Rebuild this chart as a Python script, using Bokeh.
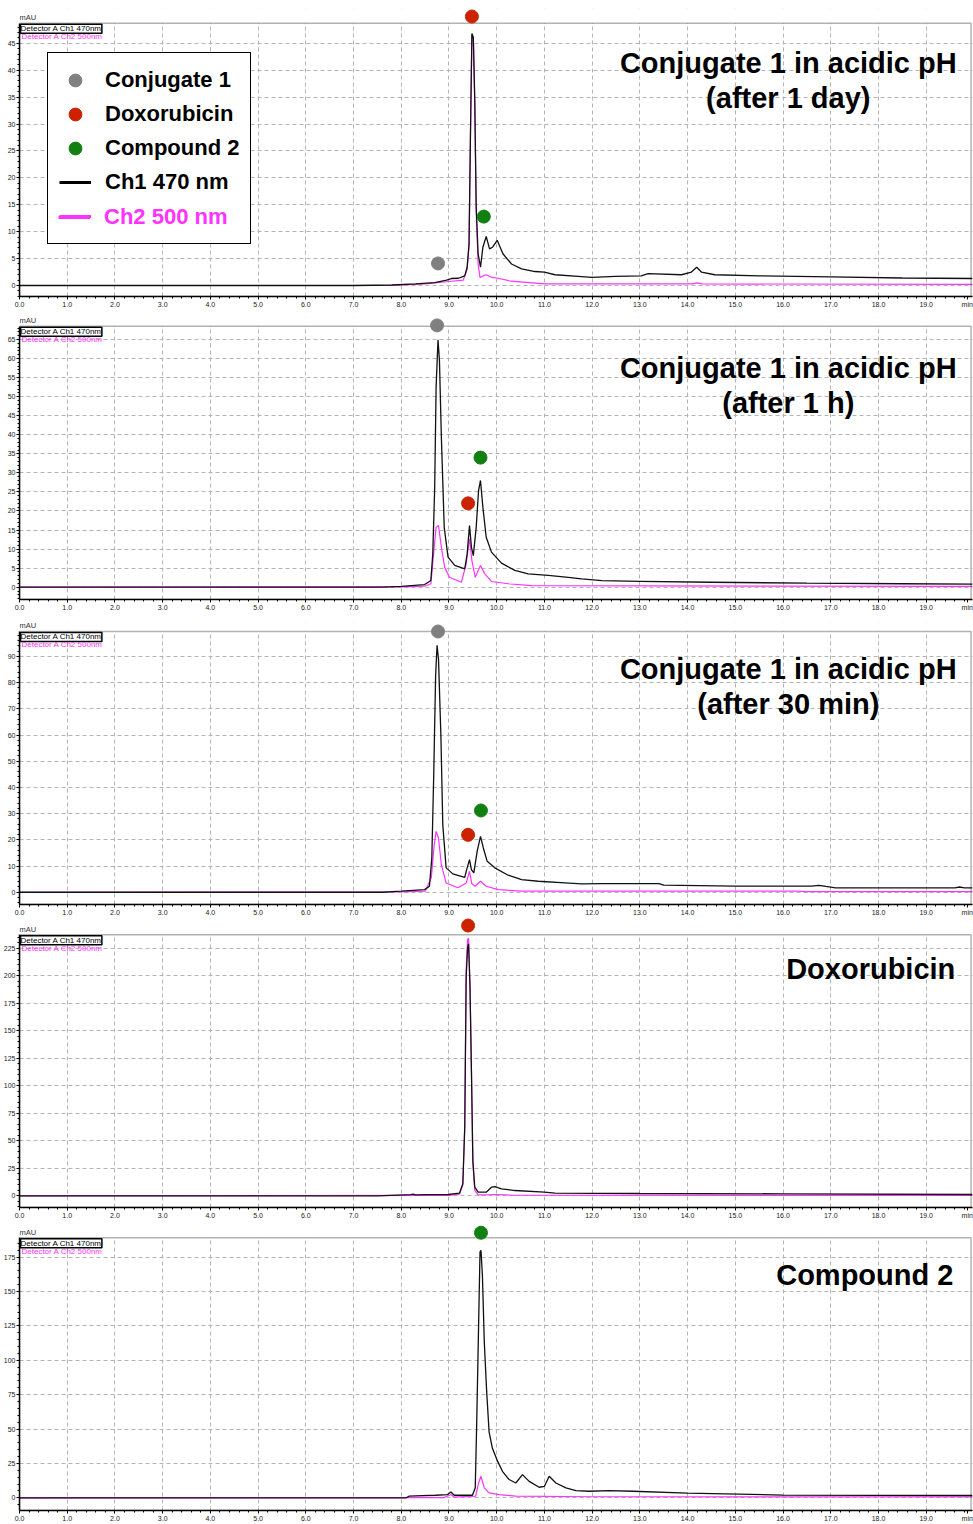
from bokeh.plotting import figure
from bokeh.layouts import column
from bokeh.models import (Range1d, SingleIntervalTicker, FixedTicker, PrintfTickFormatter,
                          BoxAnnotation, Label, Legend, LegendItem)
from bokeh.embed import file_html
from bokeh.resources import INLINE

# ---------------- data (retention time in min, signal in mAU) ----------------
compounds = ["Conjugate 1", "Doxorubicin", "Compound 2"]
compound_colors = ["#808080", "#cc2200", "#118011"]

# Panel 1: Conjugate 1 in acidic pH (after 1 day)
p1_ch1_t = [0.0, 7.0, 7.8, 8.3, 8.7, 8.95, 9.05, 9.2, 9.33, 9.38, 9.42, 9.45, 9.48, 9.51, 9.54, 9.57,
            9.61, 9.66, 9.71, 9.78, 9.85, 9.91, 10.01, 10.13, 10.31, 10.52, 10.8, 11.0, 11.22, 11.71,
            12.0, 12.48, 13.03, 13.17, 13.87, 14.08, 14.19, 14.29, 14.57, 15.5, 17.0, 18.5, 19.97]
p1_ch1_v = [0.0, 0.0, 0.1, 0.3, 0.55, 1.0, 1.3, 1.35, 1.8, 3.4, 7.7, 28.0, 46.8, 46.1, 34.4, 14.6,
            5.9, 3.4, 7.1, 9.1, 6.8, 7.1, 8.4, 5.9, 4.0, 3.1, 2.6, 2.5, 2.0, 1.7,
            1.5, 1.7, 1.8, 2.2, 2.0, 2.5, 3.4, 2.5, 2.0, 1.8, 1.6, 1.4, 1.3]
p1_ch2_t = [0.0, 7.8, 8.5, 9.0, 9.3, 9.38, 9.42, 9.45, 9.48, 9.51, 9.54, 9.57, 9.61, 9.65, 9.72,
            9.78, 9.9, 10.0, 10.3, 11.0, 14.1, 14.2, 14.3, 19.97]
p1_ch2_v = [0.0, 0.0, 0.3, 0.75, 1.0, 3.0, 7.5, 28.0, 46.5, 46.0, 34.0, 14.0, 4.0, 1.5, 1.8,
            2.0, 1.5, 1.4, 0.8, 0.3, 0.3, 0.5, 0.3, 0.2]
p1_peak_compound = ["Conjugate 1", "Doxorubicin", "Compound 2"]
p1_peak_t = [8.77, 9.48, 9.73]
p1_peak_mau = [4.1, 49.97, 12.8]

# Panel 2: Conjugate 1 in acidic pH (after 1 h)
p2_ch1_t = [0.0, 7.6, 8.0, 8.49, 8.62, 8.66, 8.7, 8.73, 8.77, 8.8, 8.84, 8.9, 8.98, 9.12, 9.33, 9.38,
            9.43, 9.47, 9.51, 9.57, 9.62, 9.66, 9.71, 9.78, 9.89, 10.1, 10.38, 10.66, 11.08, 11.5,
            11.78, 12.2, 13.0, 14.5, 16.5, 18.5, 19.97]
p2_ch1_v = [0.0, 0.0, 0.2, 0.7, 1.75, 8.7, 26.0, 52.5, 64.9, 59.5, 39.4, 15.7, 7.9, 5.7, 4.8, 8.7,
            16.2, 10.5, 8.3, 15.7, 25.4, 28.0, 21.0, 13.1, 9.2, 6.3, 4.4, 3.5, 3.1, 2.6,
            2.2, 1.7, 1.55, 1.3, 1.05, 0.9, 0.8]
p2_ch2_t = [0.0, 8.0, 8.5, 8.62, 8.69, 8.73, 8.78, 8.84, 8.91, 9.01, 9.26, 9.36, 9.43, 9.48, 9.55,
            9.66, 9.75, 9.89, 10.24, 10.73, 19.97]
p2_ch2_v = [0.0, 0.1, 0.3, 0.9, 10.5, 15.7, 16.2, 10.5, 5.2, 2.6, 1.3, 6.1, 12.7, 7.0, 2.6,
            5.7, 3.5, 1.5, 0.9, 0.4, 0.2]
p2_peak_compound = ["Conjugate 1", "Doxorubicin", "Compound 2"]
p2_peak_t = [8.75, 9.40, 9.66]
p2_peak_mau = [68.7, 22.0, 34.0]

# Panel 3: Conjugate 1 in acidic pH (after 30 min)
p3_ch1_t = [0.0, 7.6, 8.0, 8.49, 8.59, 8.64, 8.68, 8.72, 8.75, 8.78, 8.83, 8.87, 8.94, 9.08, 9.33,
            9.38, 9.43, 9.47, 9.52, 9.59, 9.66, 9.72, 9.8, 9.96, 10.24, 10.52, 10.87, 11.43, 11.78,
            12.2, 13.4, 13.5, 14.97, 16.6, 16.75, 16.9, 17.1, 19.6, 19.7, 19.8, 19.97]
p3_ch1_v = [0.0, 0.0, 0.4, 1.0, 2.3, 13.0, 44.7, 82.8, 94.2, 89.0, 60.0, 25.7, 9.3, 7.0, 5.7,
            9.3, 12.4, 8.6, 7.4, 15.6, 21.3, 16.9, 11.8, 9.3, 6.5, 4.8, 4.2, 3.6, 3.2,
            3.3, 3.3, 2.7, 2.3, 2.3, 2.6, 2.2, 1.7, 1.7, 2.0, 1.7, 1.7]
p3_ch2_t = [0.0, 8.0, 8.5, 8.63, 8.69, 8.73, 8.78, 8.84, 8.94, 9.19, 9.36, 9.43, 9.48, 9.55, 9.66,
            9.78, 10.03, 10.52, 16.3, 16.5, 19.97]
p3_ch2_v = [0.0, 0.1, 0.4, 5.5, 18.0, 23.2, 20.7, 10.5, 3.5, 1.7, 3.5, 8.0, 3.2, 2.3, 4.2,
            2.3, 1.0, 0.4, 0.4, 0.2, 0.2]
p3_peak_compound = ["Conjugate 1", "Doxorubicin", "Compound 2"]
p3_peak_t = [8.77, 9.40, 9.67]
p3_peak_mau = [99.5, 21.9, 31.2]

# Panel 4: Doxorubicin
p4_ch1_t = [0.0, 7.5, 8.2, 8.25, 8.3, 8.5, 8.98, 9.22, 9.29, 9.33, 9.36, 9.39, 9.41, 9.44, 9.47,
            9.5, 9.54, 9.61, 9.78, 9.89, 9.96, 10.1, 10.38, 11.0, 11.22, 13.0, 16.0, 19.97]
p4_ch1_v = [0.0, 0.0, 1.0, 1.5, 0.8, 1.0, 1.2, 2.4, 10.9, 62.0, 199.0, 226.0, 229.0, 190.0, 114.0,
            32.0, 7.8, 3.3, 3.3, 7.8, 8.4, 6.3, 4.8, 3.3, 2.4, 2.1, 1.8, 1.2]
p4_ch2_t = [0.0, 9.0, 9.22, 9.29, 9.33, 9.36, 9.39, 9.41, 9.44, 9.47, 9.5, 9.54, 9.61, 9.9, 10.0,
            10.3, 19.97]
p4_ch2_v = [0.0, 0.3, 1.5, 10.0, 62.0, 205.0, 233.0, 234.0, 192.0, 114.0, 30.0, 5.0, 0.8, 1.0, 1.2,
            0.5, 0.3]
p4_peak_compound = ["Doxorubicin"]
p4_peak_t = [9.40]
p4_peak_mau = [245.6]

# Panel 5: Compound 2
p5_ch1_t = [0.0, 8.1, 8.16, 8.72, 8.97, 9.04, 9.11, 9.49, 9.55, 9.58, 9.62, 9.65, 9.67, 9.7, 9.74,
            9.79, 9.84, 9.91, 10.02, 10.12, 10.26, 10.4, 10.54, 10.68, 10.89, 11.0, 11.1, 11.24,
            11.45, 11.66, 11.94, 12.36, 12.85, 14.0, 16.0, 19.97]
p5_ch1_v = [0.0, 0.0, 1.2, 1.9, 2.4, 4.3, 1.9, 1.9, 7.2, 53.0, 125.0, 178.6, 180.0, 162.0, 113.0,
            77.0, 48.0, 36.0, 26.5, 19.3, 13.3, 10.8, 16.9, 12.0, 7.7, 8.4, 15.7, 10.8,
            7.2, 5.3, 4.8, 5.3, 4.8, 3.5, 2.0, 1.7]
p5_ch2_t = [0.0, 8.9, 9.04, 9.11, 9.56, 9.62, 9.67, 9.74, 9.84, 10.05, 10.4, 12.0, 19.97]
p5_ch2_v = [0.0, 0.2, 2.4, 0.5, 1.2, 10.8, 15.7, 7.2, 3.6, 2.4, 1.2, 0.8, 0.7]
p5_peak_compound = ["Compound 2"]
p5_peak_t = [9.67]
p5_peak_mau = [192.7]

panel_titles = [["Conjugate 1 in acidic pH", "(after 1 day)"],
                ["Conjugate 1 in acidic pH", "(after 1 h)"],
                ["Conjugate 1 in acidic pH", "(after 30 min)"],
                ["Doxorubicin"],
                ["Compound 2"]]
y_tick_step = [5, 5, 10, 25, 25]
x_major_ticks = [float(k) for k in range(20)]
channel_names = ["Ch1 470 nm", "Ch2 500 nm"]
detector_names = ["Detector A Ch1 470nm", "Detector A Ch2 500nm"]

# ---------------- styling / layout ----------------
FONT = "Liberation Sans"
CH1_COLOR = "#111111"
CH2_COLOR = "#ff33ff"
W = 973
X_END = 19.97
BOX_RIGHT = 19.94
MIN_LABEL_POS = 19.86

# (height, border_top, border_bottom, y_start, y_end, box_top, px_per_unit, zero_px)
layout_spec = [
    (312, 8, 16, -2.04, 51.46, 48.73, 5.383, 285.0),
    (306, 5, 19, -3.23, 70.77, 68.49, 3.8108, 586.7 - 312),
    (300, 4, 13, -4.68, 102.93, 99.5, 2.63, 892.7 - 618),
    (306, 0, 17, -10.63, 252.0, 237.2, 1.1004, 1195.3 - 918),
    (300, 1, 13, -9.2, 197.96, 189.05, 1.3806, 1498.3 - 1224),
]
# title anchor: (x, [vertical centres in px within panel], align)
title_pos = [
    (16.11, [62, 97], "center"),
    (16.11, [368 - 312, 403 - 312], "center"),
    (16.11, [669 - 618, 704 - 618], "center"),
    (19.61, [968 - 918], "right"),
    (19.57, [1275 - 1224], "right"),
]

traces = [
    (p1_ch1_t, p1_ch1_v, p1_ch2_t, p1_ch2_v),
    (p2_ch1_t, p2_ch1_v, p2_ch2_t, p2_ch2_v),
    (p3_ch1_t, p3_ch1_v, p3_ch2_t, p3_ch2_v),
    (p4_ch1_t, p4_ch1_v, p4_ch2_t, p4_ch2_v),
    (p5_ch1_t, p5_ch1_v, p5_ch2_t, p5_ch2_v),
]
peaks = [
    (p1_peak_compound, p1_peak_t, p1_peak_mau),
    (p2_peak_compound, p2_peak_t, p2_peak_mau),
    (p3_peak_compound, p3_peak_t, p3_peak_mau),
    (p4_peak_compound, p4_peak_t, p4_peak_mau),
    (p5_peak_compound, p5_peak_t, p5_peak_mau),
]

LEGEND_STYLE = dict(orientation="vertical", label_text_font=FONT, label_text_font_style="bold",
                    label_text_font_size="22px", label_height=24, glyph_height=32,
                    glyph_width=32, spacing=2, padding=11, margin=0, label_standoff=14,
                    border_line_color="black", border_line_width=1.5)


def make_panel(i):
    h, bt, bb, y0, y1, box_top, ppu, zero_px = layout_spec[i]
    p = figure(width=W, height=h, x_range=Range1d(0, X_END), y_range=Range1d(y0, y1),
               output_backend="svg", toolbar_location=None,
               min_border_left=16, min_border_right=1,
               min_border_top=bt, min_border_bottom=bb)
    p.outline_line_color = None
    p.background_fill_color = "white"

    minor = [k * 0.2 for k in range(100) if k % 5 != 0 and k * 0.2 < X_END]
    xt_axis = FixedTicker(ticks=x_major_ticks + [MIN_LABEL_POS], minor_ticks=minor)
    xt_grid = SingleIntervalTicker(interval=1, num_minor_ticks=5)
    yt = SingleIntervalTicker(interval=y_tick_step[i], num_minor_ticks=5)
    p.xaxis.ticker = xt_axis
    p.yaxis.ticker = yt
    p.xgrid.ticker = xt_grid
    p.ygrid.ticker = yt
    p.xaxis.formatter = PrintfTickFormatter(format="%.1f")
    p.xaxis.major_label_overrides = {MIN_LABEL_POS: "min"}
    p.yaxis.bounds = (y0, box_top)
    for ax in (p.xaxis[0], p.yaxis[0]):
        ax.axis_line_color = "black"
        ax.axis_line_width = 1.5
        ax.major_tick_line_color = "black"
        ax.minor_tick_line_color = "black"
        ax.major_tick_in = 0
        ax.major_tick_out = 3
        ax.minor_tick_in = 0
        ax.minor_tick_out = 2
        ax.major_label_text_font = FONT
        ax.major_label_text_font_size = "7px"
        ax.major_label_text_color = "#222222"
        ax.major_label_standoff = 1
    for g in (p.xgrid[0], p.ygrid[0]):
        g.grid_line_color = "#b4b4b4"
        g.grid_line_dash = "4 3"
        g.grid_line_width = 1

    t1, v1, t2, v2 = traces[i]
    p.line(t2, v2, line_color=CH2_COLOR, line_width=1.2)
    p.line(t1, v1, line_color=CH1_COLOR, line_width=1.3)

    # cover above the nominal frame top, then the frame box
    p.add_layout(BoxAnnotation(left=0, right=X_END, bottom=box_top, top=y1,
                               fill_color="white", fill_alpha=1, line_color=None))
    p.add_layout(BoxAnnotation(left=0, right=BOX_RIGHT, bottom=y0, top=box_top,
                               fill_alpha=0, line_color="black", line_width=1.5))

    comp, pt, pv = peaks[i]
    marker_renderers = {}
    for name, color in zip(compounds, compound_colors):
        xs = [t for c, t in zip(comp, pt) if c == name]
        ys = [v for c, v in zip(comp, pv) if c == name]
        if xs:
            marker_renderers[name] = p.scatter(xs, ys, size=13, marker="circle",
                                               fill_color=color, line_color=color,
                                               level="overlay")

    # small labels
    p.add_layout(Label(x=0, y=box_top, text="mAU", x_offset=0, y_offset=1,
                       text_font=FONT, text_font_size="7.5px", text_color="#333333",
                       text_baseline="bottom", text_align="left"))
    p.add_layout(Label(x=0, y=box_top, text=detector_names[0], x_offset=1, y_offset=-1,
                       text_font=FONT, text_font_size="8px", text_color="black",
                       text_baseline="top", text_align="left",
                       border_line_color="black", border_line_width=1.5,
                       background_fill_color="white", padding=0))
    p.add_layout(Label(x=0, y=box_top, text=detector_names[1], x_offset=2, y_offset=-9,
                       text_font=FONT, text_font_size="8px", text_color=CH2_COLOR,
                       text_baseline="top", text_align="left"))

    tx, centres, align = title_pos[i]
    for line, cy in zip(panel_titles[i], centres):
        p.add_layout(Label(x=tx, y=(zero_px - cy) / ppu, text=line, text_font=FONT,
                           text_font_size="29px", text_font_style="bold", text_color="black",
                           text_align=align, text_baseline="middle"))

    if i == 0:
        r_l1 = p.line([float("nan")], [float("nan")], line_color="black", line_width=3)
        r_l2 = p.line([float("nan")], [float("nan")], line_color=CH2_COLOR, line_width=3)
        items = [LegendItem(label=n, renderers=[marker_renderers[n]]) for n in compounds]
        items.append(LegendItem(label=channel_names[0], renderers=[r_l1]))
        items.append(LegendItem(label=" ", renderers=[r_l2]))
        leg = Legend(items=items, location=(28, 52), label_text_color="black",
                     border_line_alpha=1,
                     background_fill_color="white", background_fill_alpha=1, **LEGEND_STYLE)
        p.add_layout(leg)
        # second legend (invisible frame) over the last row, so its label can be magenta
        leg2 = Legend(items=[LegendItem(label=channel_names[1], renderers=[r_l2])],
                      location=(28, 52), label_text_color=CH2_COLOR,
                      border_line_alpha=0, background_fill_alpha=0, **LEGEND_STYLE)
        p.add_layout(leg2)
    return p


panels = [make_panel(i) for i in range(5)]
layout = column(*panels, spacing=0)
open("out.html", "w").write(file_html(layout, INLINE))
